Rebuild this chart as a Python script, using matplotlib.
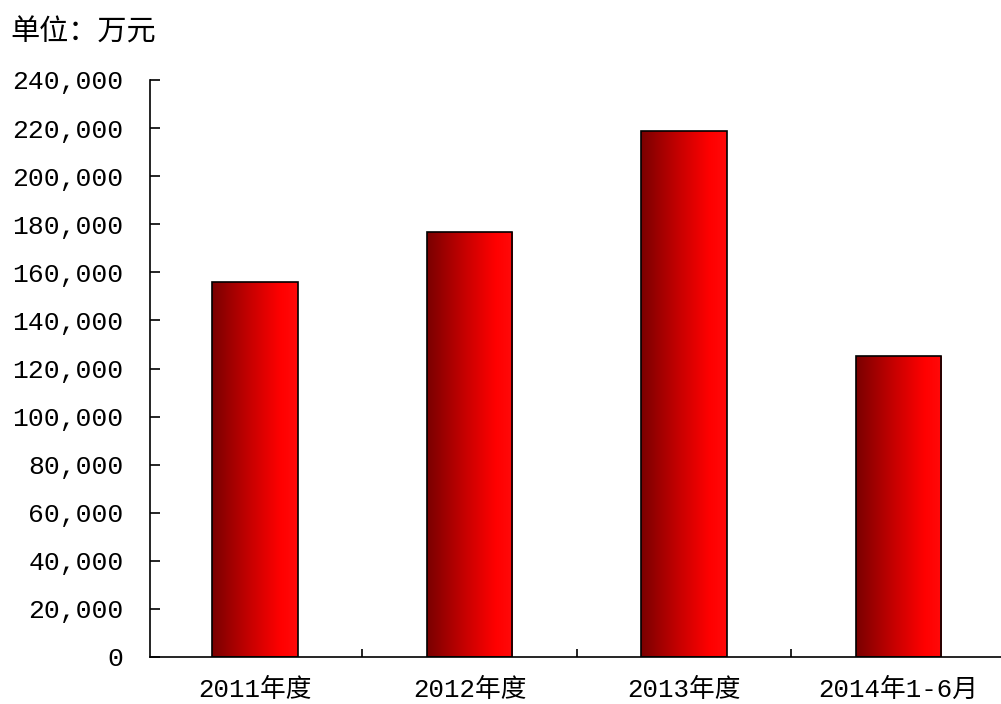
import matplotlib.pyplot as plt
import numpy as np
from matplotlib.colors import LinearSegmentedColormap

# data
categories = ['2011年度', '2012年度', '2013年度', '2014年1-6月']
values = [156000, 176800, 218800, 125200]
yticks = list(range(0, 240001, 20000))

fonts = ['Liberation Mono', 'Noto Sans CJK SC']

fig = plt.figure(figsize=(10.01, 7.04), dpi=100)
ax = fig.add_axes([150 / 1001, 47 / 704, 851 / 1001, 577 / 704])

x = np.arange(len(categories))
bars = ax.bar(x, values, width=0.4, color='none', edgecolor='black', linewidth=1.2, zorder=3)

# horizontal dark-to-bright red gradient inside each bar
cmap = LinearSegmentedColormap.from_list('redgrad', [(0.0, '#7a0000'), (0.45, '#c80000'), (0.8, '#ff0000'), (1.0, '#ff0a0a')])
grad = np.linspace(0, 1, 256).reshape(1, -1)
for b in bars:
    x0, w, h = b.get_x(), b.get_width(), b.get_height()
    im = ax.imshow(grad, cmap=cmap, aspect='auto', extent=[x0, x0 + w, 0, h], zorder=2)
    im.set_clip_path(b)

ax.set_xlim(-0.49, 3.478)
ax.set_ylim(0, 240000)

ax.set_yticks(yticks)
ax.set_yticklabels([f'{v:,}' for v in yticks], family=fonts, fontsize=19)
ax.tick_params(axis='y', direction='in', length=7, width=1.2, pad=19)

ax.set_xticks(x)
ax.set_xticklabels(categories, family=fonts, fontsize=18.5)
ax.tick_params(axis='x', which='major', length=0, pad=15)
ax.set_xticks([0.5, 1.5, 2.5], minor=True)
ax.tick_params(axis='x', which='minor', direction='in', length=6, width=1.2)

for s in ['top', 'right']:
    ax.spines[s].set_visible(False)
for s in ['left', 'bottom']:
    ax.spines[s].set_linewidth(1.2)

fig.text(10 / 1001, 1 - 33 / 704, '单位：万元', family=fonts, fontsize=21, va='center', ha='left')

fig.savefig('out.png', dpi=100)
